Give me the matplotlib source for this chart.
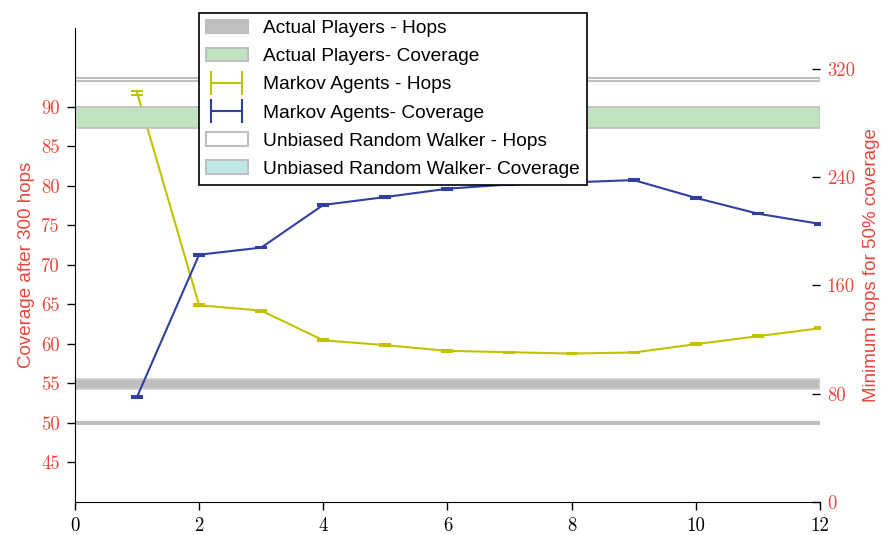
import numpy as np
import matplotlib
matplotlib.use('Agg')
import matplotlib.pyplot as plt
import matplotlib.patches as mpatches
from matplotlib.lines import Line2D

# number of agents / walkers on the x axis
agents = [1, 2, 3, 4, 5, 6, 7, 8, 9, 10, 11, 12]

# Markov agents (mean and std)
markov_hops = [302.3, 145.3, 141.3, 119.4, 115.8, 111.6, 110.6, 109.6, 110.4, 116.5, 122.4, 128.3]
markov_hops_err = [1.5, 0.8, 0.8, 0.6, 0.5, 0.5, 0.5, 0.5, 0.5, 0.6, 0.6, 0.6]
markov_cov = [53.3, 71.3, 72.2, 77.6, 78.6, 79.65, 80.2, 80.45, 80.75, 78.5, 76.5, 75.2]
markov_cov_err = [0.15, 0.1, 0.1, 0.1, 0.1, 0.1, 0.1, 0.1, 0.1, 0.1, 0.1, 0.1]

# reference bands (low, high)
players_hops = (83.5, 91.0)
players_cov = (87.4, 90.0)
walker_hops = (310.5, 313.3)
walker_cov = (49.85, 50.1)

red = '#e8463c'
gray = '#bfbfbf'
green = '#c2e3c2'
cyan = '#bfe9e9'
yellow = '#c2c200'
blue = '#3040a0'

plt.rcParams['font.family'] = ['Liberation Sans', 'DejaVu Sans']

fig = plt.figure(figsize=(8.82, 5.35), dpi=100)
ax1 = fig.add_axes([0.085, 0.0617, 0.8445, 0.886])
ax2 = ax1.twinx()
ax1.set_zorder(ax2.get_zorder() + 1)
ax1.patch.set_visible(False)

# hops on the right axis
ax2.axhspan(*players_hops, facecolor=gray, edgecolor='#d0d0d0', linewidth=1.2)
ax2.axhspan(*walker_hops, facecolor='white', edgecolor=gray, linewidth=1.5)
ax2.errorbar(agents, markov_hops, yerr=markov_hops_err, color=yellow, lw=1.5,
             capsize=4, capthick=1.5)

# coverage on the left axis
ax1.axhspan(*players_cov, facecolor=green, edgecolor=gray, linewidth=1.2)
ax1.axhspan(*walker_cov, facecolor=cyan, edgecolor=gray, linewidth=1.5)
ax1.errorbar(agents, markov_cov, yerr=markov_cov_err, color=blue, lw=1.5,
             capsize=4, capthick=1.5)

ax1.set_xlim(0, 12)
ax1.set_ylim(40, 100)
ax2.set_ylim(0, 350)
ax1.set_xticks(range(0, 13, 2))
ax1.set_yticks(range(45, 95, 5))
ax2.set_yticks(range(0, 321, 80))

for s in ['top', 'right']:
    ax1.spines[s].set_visible(False)
for s in ['top', 'right', 'left', 'bottom']:
    ax2.spines[s].set_visible(False)

ax1.tick_params(axis='both', direction='out', length=6, width=1, pad=5)
ax1.tick_params(axis='y', labelcolor=red)
ax2.tick_params(axis='y', direction='in', length=6, width=1, pad=5, labelcolor=red)

for lab in ax1.get_xticklabels() + ax1.get_yticklabels() + ax2.get_yticklabels():
    lab.set_fontfamily('cmr10')
    lab.set_fontsize(13.5)

ax1.set_ylabel('Coverage after 300 hops', color=red, fontsize=13.5, labelpad=4)
ax2.set_ylabel('Minimum hops for 50% coverage', color=red, fontsize=13.5, labelpad=6)

handles = [
    mpatches.Patch(facecolor=gray, edgecolor=gray, linewidth=1.5),
    mpatches.Patch(facecolor=green, edgecolor=gray, linewidth=1.5),
    Line2D([], [], color=yellow, lw=1.5, marker='|', markersize=17, markeredgewidth=1.5),
    Line2D([], [], color=blue, lw=1.5, marker='|', markersize=17, markeredgewidth=1.5),
    mpatches.Patch(facecolor='white', edgecolor=gray, linewidth=1.5),
    mpatches.Patch(facecolor=cyan, edgecolor=gray, linewidth=1.5),
]
labels = ['Actual Players - Hops', 'Actual Players- Coverage', 'Markov Agents - Hops',
          'Markov Agents- Coverage', 'Unbiased Random Walker - Hops',
          'Unbiased Random Walker- Coverage']
leg = ax1.legend(handles, labels, loc='upper left', bbox_to_anchor=(0.2256, 0.9757),
                 bbox_transform=fig.transFigure, borderaxespad=0, fontsize=13.8,
                 fancybox=False, framealpha=1, edgecolor='black', numpoints=2,
                 handlelength=2.2, labelspacing=0.56, borderpad=0.35, handletextpad=0.8)
leg.get_frame().set_linewidth(1.2)

fig.savefig('out.png', dpi=100)
